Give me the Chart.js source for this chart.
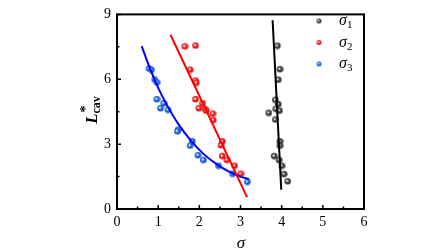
<!DOCTYPE html>
<html><head><meta charset="utf-8">
<script src="https://cdn.jsdelivr.net/npm/chart.js@4"></script>
<style>html,body{margin:0;background:#fff}</style>
</head><body>
<canvas id="c" width="448" height="252"></canvas>
<script>
// axis ticks
const xTicks = [0, 1, 2, 3, 4, 5, 6];
const yTicks = [0, 3, 6, 9];
const xMinor = [0.5, 1.5, 2.5, 3.5, 4.5, 5.5];
const yMinor = [1.5, 4.5, 7.5];

// sigma_1 (black)
const s1X = [3.89, 3.95, 3.91, 3.84, 3.91, 3.68, 3.85, 3.94, 3.84, 3.95, 3.95, 3.81, 3.93, 4.00, 4.05, 4.14];
const s1Y = [7.56, 6.48, 5.99, 5.06, 4.86, 4.46, 4.64, 4.56, 4.15, 3.14, 2.94, 2.46, 2.28, 2.01, 1.63, 1.29];
const s1FitX = [3.78, 3.99];
const s1FitY = [8.73, 0.89];

// sigma_2 (red)
const s2X = [1.64, 1.90, 1.77, 1.90, 1.92, 1.90, 2.07, 1.98, 2.13, 2.16, 2.32, 2.33, 2.55, 2.52, 2.55, 2.66, 2.85, 3.00];
const s2Y = [7.53, 7.57, 6.45, 5.95, 5.85, 5.09, 4.90, 4.67, 4.64, 4.56, 4.42, 4.13, 3.14, 2.96, 2.46, 2.28, 2.01, 1.64];
const s2FitX = [1.30, 3.16];
const s2FitY = [8.06, 0.55];

// sigma_3 (blue)
const s3X = [0.77, 0.83, 0.91, 0.96, 0.96, 1.13, 1.05, 1.23, 1.48, 1.46, 1.82, 1.77, 1.96, 2.09, 2.46, 2.80, 3.16];
const s3Y = [6.51, 6.45, 6.00, 5.87, 5.09, 4.90, 4.67, 4.60, 3.68, 3.60, 3.15, 2.94, 2.50, 2.28, 2.01, 1.64, 1.27];
const s3FitX = [0.60, 0.80, 1.00, 1.20, 1.50, 1.80, 2.10, 2.40, 2.70, 3.00, 3.20];
const s3FitY = [7.53, 6.50, 5.60, 4.85, 3.90, 3.15, 2.55, 2.10, 1.75, 1.50, 1.38];

const labels = ['1', '2', '3'];
const colors = ['#3a3a3a', '#e8191c', '#1a5fd6'];

const pts = (xs, ys) => xs.map((x, i) => ({ x: x, y: ys[i] }));

// little shaded ball used as point marker
function ball(color, r) {
  const c = document.createElement('canvas');
  const s = r * 2 + 2;
  c.width = s; c.height = s;
  const g = c.getContext('2d');
  const grad = g.createRadialGradient(s / 2 - r * 0.25, s / 2 - r * 0.25, 0.3, s / 2, s / 2, r);
  grad.addColorStop(0, '#ffffff');
  grad.addColorStop(0.5, color);
  grad.addColorStop(1, color);
  g.fillStyle = grad;
  g.beginPath();
  g.arc(s / 2, s / 2, r, 0, Math.PI * 2);
  g.fill();
  return c;
}
const balls = colors.map(c => ball(c, 3.3));
const legendBalls = colors.map(c => ball(c, 2.5));

const serif = '"Liberation Serif", "Times New Roman", serif';

const frame = {
  id: 'frame',
  afterDraw(chart) {
    const ctx = chart.ctx;
    const a = chart.chartArea;
    const xs = chart.scales.x, ys = chart.scales.y;
    ctx.save();
    ctx.strokeStyle = '#000';
    ctx.lineWidth = 2;
    ctx.strokeRect(a.left, a.top, a.right - a.left, a.bottom - a.top);
    // inward ticks
    ctx.lineWidth = 1.5;
    ctx.beginPath();
    xTicks.forEach(v => { const p = xs.getPixelForValue(v); ctx.moveTo(p, a.bottom); ctx.lineTo(p, a.bottom - 4); });
    xMinor.forEach(v => { const p = xs.getPixelForValue(v); ctx.moveTo(p, a.bottom); ctx.lineTo(p, a.bottom - 2.5); });
    yTicks.forEach(v => { const p = ys.getPixelForValue(v); ctx.moveTo(a.left, p); ctx.lineTo(a.left + 4, p); });
    yMinor.forEach(v => { const p = ys.getPixelForValue(v); ctx.moveTo(a.left, p); ctx.lineTo(a.left + 2.5, p); });
    ctx.stroke();

    // legend
    ctx.fillStyle = '#000';
    ctx.textBaseline = 'alphabetic';
    labels.forEach((lab, i) => {
      const y = 21 + i * 21.5;
      const b = legendBalls[i];
      ctx.drawImage(b, 319 - b.width / 2, y - b.height / 2);
      ctx.font = 'italic 16px ' + serif;
      ctx.fillText('\u03c3', 339, y + 4);
      const w = ctx.measureText('\u03c3').width;
      ctx.font = '11px ' + serif;
      ctx.fillText(lab, 339 + w, y + 7);
    });

    // x title
    ctx.font = 'italic 17px ' + serif;
    ctx.textAlign = 'center';
    ctx.fillText('\u03c3', 241, 248);

    // y title L*cav
    ctx.translate(97, 110);
    ctx.rotate(-Math.PI / 2);
    ctx.textAlign = 'left';
    ctx.font = 'bold italic 17px ' + serif;
    const wl = ctx.measureText('L').width;
    ctx.font = 'bold 12px ' + serif;
    const wc = ctx.measureText('cav').width;
    let x0 = -(wl + wc) / 2;
    ctx.font = 'bold italic 17px ' + serif;
    ctx.fillText('L', x0, 0);
    ctx.font = 'bold 14px ' + serif;
    ctx.fillText('*', x0 + wl + 1, -7);
    ctx.font = 'bold 12px ' + serif;
    ctx.fillText('cav', x0 + wl, 3);
    ctx.restore();
  }
};

const lineDs = (xs, ys, col, smooth) => ({
  data: pts(xs, ys), showLine: true, borderColor: col, borderWidth: 2,
  pointRadius: 0, fill: false, cubicInterpolationMode: smooth ? 'monotone' : 'default', tension: smooth ? 0.4 : 0
});
const dotDs = (xs, ys, i) => ({
  data: pts(xs, ys), showLine: false, pointStyle: balls[i], pointRadius: 3.3,
  borderColor: colors[i], backgroundColor: colors[i]
});

new Chart(document.getElementById('c'), {
  type: 'scatter',
  data: {
    datasets: [
      lineDs(s1FitX, s1FitY, '#000000', false),
      lineDs(s2FitX, s2FitY, '#ff0000', false),
      lineDs(s3FitX, s3FitY, '#0000ff', true),
      dotDs(s1X, s1Y, 0),
      dotDs(s2X, s2Y, 1),
      dotDs(s3X, s3Y, 2)
    ]
  },
  options: {
    responsive: false,
    animation: false,
    layout: { padding: { top: 9, right: 84, left: 0, bottom: 0 } },
    plugins: { legend: { display: false }, tooltip: { enabled: false } },
    scales: {
      x: {
        type: 'linear', min: 0, max: 6,
        afterBuildTicks: s => { s.ticks = xTicks.map(v => ({ value: v })); },
        afterFit: s => { s.height = 43; },
        grid: { display: false, drawTicks: false },
        border: { display: false },
        ticks: { color: '#000', font: { family: serif, size: 14 }, padding: 5, maxRotation: 0 }
      },
      y: {
        type: 'linear', min: 0, max: 9,
        afterBuildTicks: s => { s.ticks = yTicks.map(v => ({ value: v })); },
        afterFit: s => { s.width = 117; },
        grid: { display: false, drawTicks: false },
        border: { display: false },
        ticks: { color: '#000', font: { family: serif, size: 14 }, padding: 6 }
      }
    }
  },
  plugins: [frame]
});
</script>
</body></html>
